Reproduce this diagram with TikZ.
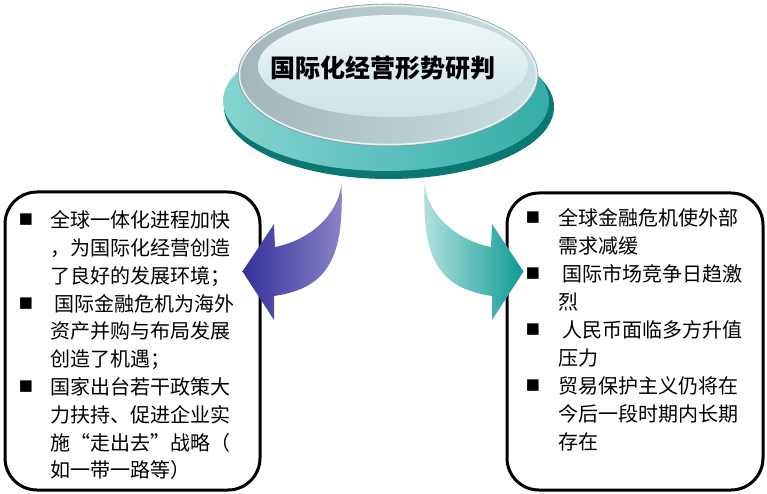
\documentclass[tikz,border=0pt]{standalone}
\usepackage{fontspec}
\newfontfamily\cjk{Noto Sans CJK SC}
\newfontfamily\sym{DejaVu Sans}
\usetikzlibrary{shapes.geometric}
\definecolor{tealdark}{HTML}{0A7773}
\definecolor{teallight}{HTML}{86D4D0}
\definecolor{tealmid}{HTML}{33ACA7}
\definecolor{rimleft}{HTML}{A3B6B9}
\definecolor{rimmid}{HTML}{C0D7DA}
\definecolor{rimright}{HTML}{C9E0E2}
\definecolor{faceTop}{HTML}{F1F7F8}
\definecolor{faceBot}{HTML}{CCE3E6}
\definecolor{arrowBdark}{HTML}{34309A}
\definecolor{arrowBlight}{HTML}{8C86C8}
\definecolor{arrowTlight}{HTML}{B2E3E0}
\definecolor{arrowTdark}{HTML}{0F9A94}
\tikzset{
  box/.style={draw=black, line width=3pt, rounded corners=32pt, inner sep=0pt},
  bodytext/.style={font=\cjk\fontsize{20}{24}\selectfont, anchor=base west, inner sep=0pt},
  bulletmark/.style={font=\sym\fontsize{15}{18}\selectfont, anchor=center, inner sep=0pt},
  titletext/.style={font=\cjk\bfseries\fontsize{25}{30}\selectfont, anchor=base, inner sep=0pt}
}
\begin{document}
\begin{tikzpicture}[x=1pt,y=-1pt]
\useasboundingbox (0,0) rectangle (767,494);
% boxes
\node[box, minimum width=255pt, minimum height=298pt] (leftbox) at (132.5,341) {};
\node[box, minimum width=256pt, minimum height=297pt] (rightbox) at (635,341.5) {};
% disc
\fill[tealdark] (389,107) ellipse [x radius=165, y radius=72];
\shade[left color=teallight, right color=tealmid] (386,101) ellipse [x radius=163, y radius=70];
\shade[left color=rimleft, middle color=rimmid, right color=rimright, draw=rimleft!85!black, line width=0.6pt] (388,75) ellipse [x radius=150, y radius=71];
\draw[color=white!55!rimright, line width=1.5pt] (388,75) ellipse [x radius=148.5, y radius=69.5];
\shade[top color=faceTop, bottom color=faceBot] (393,66) ellipse [x radius=135, y radius=51];
\node[titletext] (title) at (383,77.5) {国际化经营形势研判};
% arrows
\shade[left color=arrowBdark, right color=arrowBlight]
  (341.5,184) .. controls (344,255) and (330,288) .. (274,296)
  -- (274,320) -- (242.5,271.5) -- (274,224) -- (275,247)
  .. controls (310,240) and (338,215) .. (341.5,184) -- cycle;
\shade[left color=arrowTlight, right color=arrowTdark]
  (424.5,184) .. controls (422,255) and (436,288) .. (492,296)
  -- (492,320) -- (523.5,271.5) -- (492,224) -- (491,247)
  .. controls (456,240) and (428,215) .. (424.5,184) -- cycle;
% left text
\node[bulletmark] (lb1) at (26,220) {■};
\node[bulletmark] (lb2) at (26,303.4) {■};
\node[bulletmark] (lb3) at (26,386.8) {■};
\node[bodytext] (l1) at (50,227.6) {全球一体化进程加快};
\node[bodytext] (l2) at (50,255.4) {，为国际化经营创造};
\node[bodytext] (l3) at (50,283.2) {了良好的发展环境；};
\node[bodytext] (l4) at (50,311.0) {\ 国际金融危机为海外};
\node[bodytext] (l5) at (50,338.8) {资产并购与布局发展};
\node[bodytext] (l6) at (50,366.6) {创造了机遇；};
\node[bodytext] (l7) at (50,394.4) {国家出台若干政策大};
\node[bodytext] (l8) at (50,422.2) {力扶持、促进企业实};
\node[bodytext] (l9) at (50,450.0) {施“走出去”战略（};
\node[bodytext] (l10) at (50,477.8) {如一带一路等）};
% right text
\node[bulletmark] (rb1) at (533,218) {■};
\node[bulletmark] (rb2) at (533,274) {■};
\node[bulletmark] (rb3) at (533,330) {■};
\node[bulletmark] (rb4) at (533,386) {■};
\node[bodytext] (r1) at (558,225.6) {全球金融危机使外部};
\node[bodytext] (r2) at (558,253.6) {需求减缓};
\node[bodytext] (r3) at (558,281.6) {\ 国际市场竞争日趋激};
\node[bodytext] (r4) at (558,309.6) {烈};
\node[bodytext] (r5) at (558,337.6) {\ 人民币面临多方升值};
\node[bodytext] (r6) at (558,365.6) {压力};
\node[bodytext] (r7) at (558,393.6) {贸易保护主义仍将在};
\node[bodytext] (r8) at (558,421.6) {今后一段时期内长期};
\node[bodytext] (r9) at (558,449.6) {存在};
\end{tikzpicture}
\end{document}
